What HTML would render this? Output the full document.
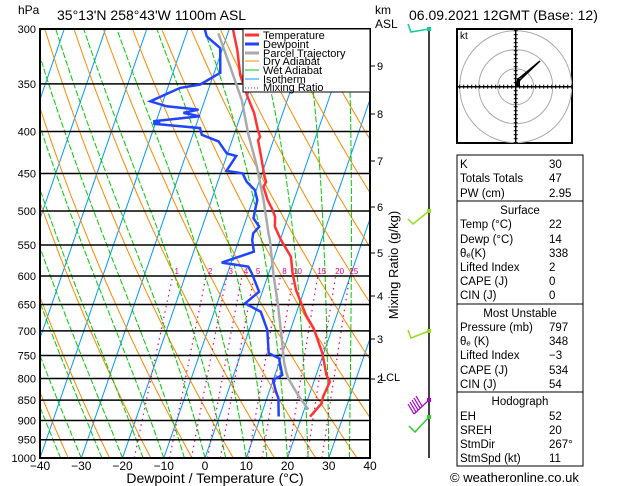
<!DOCTYPE html>
<html><head><meta charset="utf-8"><style>
body{margin:0;background:#fff;}
svg{display:block;font-family:"Liberation Sans",sans-serif;}
</style></head><body>
<svg id="c" width="629" height="486" viewBox="0 0 629 486">
<defs><clipPath id="pc"><rect x="40" y="29" width="330" height="429"/></clipPath></defs>
<g id="bg" clip-path="url(#pc)"></g>
<g id="iso"></g>
<g id="ser" clip-path="url(#pc)"></g>
<rect x="40" y="29" width="330" height="429" fill="none" stroke="#000" stroke-width="2"/>
<g id="ax"></g>
<text x="18" y="14" font-size="12">hPa</text>
<text x="57" y="20" font-size="14">35°13'N  258°43'W  1100m  ASL</text>
<text x="375" y="14" font-size="12">km</text>
<text x="375" y="28" font-size="12">ASL</text>
<text x="409" y="20" font-size="14">06.09.2021  12GMT  (Base: 12)</text>
<text x="215" y="483" font-size="14" text-anchor="middle">Dewpoint / Temperature (°C)</text>
<text x="398" y="265" font-size="13" text-anchor="middle" transform="rotate(-90 398 265)">Mixing Ratio (g/kg)</text>
<g>
<rect x="243" y="29" width="127" height="63" fill="#fff" stroke="#000" stroke-width="1"/>
<line x1="245" y1="35" x2="259" y2="35" stroke="#f33" stroke-width="3"/><text x="263" y="39" font-size="11">Temperature</text>
<line x1="245" y1="44" x2="259" y2="44" stroke="#24f" stroke-width="3"/><text x="263" y="48" font-size="11">Dewpoint</text>
<line x1="245" y1="53" x2="259" y2="53" stroke="#aaa" stroke-width="3"/><text x="263" y="57" font-size="11">Parcel Trajectory</text>
<line x1="245" y1="61" x2="259" y2="61" stroke="#f80" stroke-width="1"/><text x="263" y="65" font-size="11">Dry Adiabat</text>
<line x1="245" y1="70" x2="259" y2="70" stroke="#0c0" stroke-width="1"/><text x="263" y="74" font-size="11">Wet Adiabat</text>
<line x1="245" y1="79" x2="259" y2="79" stroke="#09f" stroke-width="1"/><text x="263" y="83" font-size="11">Isotherm</text>
<line x1="245" y1="88" x2="259" y2="88" stroke="#e08" stroke-width="1" stroke-dasharray="1,2"/><text x="263" y="91" font-size="11">Mixing Ratio</text>
</g>
<g id="wind"></g>
<g id="hodo"></g>
<g id="tbl"></g>
<text x="450" y="482" font-size="13">© weatheronline.co.uk</text>
</svg>
<script>
const tempP=[300.8,318.2,341.3,362.8,380.1,398.3,406,409.9,429.3,454.1,460.6,467.1,484.8,496.2,508,522.5,542.4,568.4,595.5,624.1,654,669.5,695,745.5,792.3,807.2,842,857.9,890.6];
const tempT=[-29.0,-26.3,-23.5,-19.9,-16.9,-14.6,-13.5,-13.7,-11.6,-9.1,-8.3,-8.5,-6.4,-4.7,-3.2,-2.4,0.2,4.0,5.8,8.0,11.0,12.5,15.5,19.7,22.5,23.9,23.5,23.7,22.0];
const dewP=[300.8,306.5,316.5,339.2,350.6,353.9,367.5,372.7,376.2,379.7,383.3,388.7,390.5,391.3,396.2,403.7,411.3,425.3,428.5,446.6,449.9,460.6,471.5,484.8,498.6,510.3,522.5,532.3,542.4,560.4,577.9,584.4,595.5,627,648,663.5,698.3,745.5,756,792.3,803.5,826.3,845.8,890];
const dewT=[-35.8,-34.8,-30.6,-28.5,-32.4,-37.0,-43.1,-38.7,-30.7,-34.1,-29.8,-40.7,-38.9,-40.5,-28.8,-27.8,-23.2,-20.2,-17.7,-18.8,-14.7,-13.0,-10.3,-8.9,-8.6,-8.3,-6.2,-7.1,-6.8,-5.4,-12.3,-5.5,-4.1,-0.8,-3.2,1.3,4.4,6.7,9.6,11.8,10.0,11.4,12.8,14.4];
const parcelP=[303.6,333,366.3,402,441.3,484.8,532.3,542.4,595.5,654,717.1,765,786.9,801.8,840,872.7];
const parcelT=[-32.3,-26.7,-21.0,-16.7,-11.8,-7.4,-3.4,-2.5,1.1,5.1,8.7,11.2,12.6,13.7,17.5,21.0];
const pressureTicks=[300,350,400,450,500,550,600,650,700,750,800,850,900,950,1000];
const tempTicks=[-40,-30,-20,-10,0,10,20,30,40];
const kmTicks=[9,8,7,6,5,4,3,2];
const kmY=[66,114,161,207,253,296,339,379];
const mixRatios=[1,2,3,4,5,8,10,15,20,25];
const NS="http://www.w3.org/2000/svg";
const X0=40,Y0=29,Y1=458,PX=4.125,SK=0.345;
function yP(p){return Y0+Math.log(p/300)/Math.log(1000/300)*(Y1-Y0);}
function xT(t,p){const y=yP(p);return X0+(t+40)*PX+SK*(Y1-y);}
function mk(tag,parent,attrs){const e=document.createElementNS(NS,tag);for(const k in attrs)e.setAttribute(k,attrs[k]);parent.appendChild(e);return e;}
function poly(parent,ps,ts,attrs){let d=ps.map((p,i)=>(i?"L":"M")+xT(ts[i],p).toFixed(1)+","+yP(p).toFixed(1)).join("");return mk("path",parent,Object.assign({d:d,fill:"none"},attrs));}
const bg=document.getElementById("bg");
// isotherms
for(let t=-120;t<=40;t+=10){const e=poly(bg,[1000,300],[t,t],{stroke:"#09f","stroke-width":1});

}
// dry adiabats
const plev=[];for(let p=1000;p>=290;p-=10)plev.push(p);
for(let th=230;th<=500;th+=10){const ts=plev.map(p=>th*Math.pow(p/1000,0.286)-273.15);const e=poly(bg,plev,ts,{stroke:"#f80","stroke-width":1});

}
// wet adiabats
function es(t){return 6.112*Math.exp(17.67*t/(t+243.5));}
for(let t0=-40;t0<=45;t0+=5){let T=t0+273.15;const ps=[],ts=[];
for(let p=1000;p>=290;p-=5){ps.push(p);ts.push(T-273.15);const rs=0.622*es(T-273.15)/(p-es(T-273.15));
const g=(287*T+2.5e6*rs)/(1004+2.5e6*2.5e6*rs*0.622/(287*T*T))/p;T-=g*5;}
const e=poly(bg,ps,ts,{stroke:"#0c0","stroke-width":1,"stroke-dasharray":"6,2"});

}
// mixing ratio
const mlev=[1000,950,900,850,800,750,700,650,600];
mixRatios.forEach(w=>{const ts=mlev.map(p=>{const e=w*p/(622+w);const l=Math.log(e/6.112);return 243.5*l/(17.67-l);});
const e=poly(bg,mlev,ts,{stroke:"#e08","stroke-width":1.2,"stroke-dasharray":"1.5,4"});


const tx=mk("text",document.getElementById("ser"),{x:xT(ts[8],600)+4,y:yP(600)-2,"font-size":8,fill:"#e08","text-anchor":"middle"});tx.textContent=w;

});
// isobars
const iso=document.getElementById("iso"),ax=document.getElementById("ax");
pressureTicks.forEach(p=>{const y=yP(p);const l=mk("line",iso,{x1:X0,x2:370,y1:y,y2:y,stroke:"#000","stroke-width":1.5});


const t=mk("text",ax,{x:36,y:y+4,"font-size":11,"text-anchor":"end"});t.textContent=p;

});
tempTicks.forEach(v=>{const x=X0+(v+40)*PX;const t=mk("text",ax,{x:x,y:470,"font-size":12,"text-anchor":"middle"});t.textContent=v<0?"\u2212"+(-v):v;

});
kmTicks.forEach((k,i)=>{const y=kmY[i];mk("line",ax,{x1:370,x2:375,y1:y,y2:y,stroke:"#000"});const t=mk("text",ax,{x:377,y:y+4,"font-size":11});t.textContent=k;

});
const lcl=mk("text",ax,{x:380,y:381,"font-size":11});lcl.textContent="LCL";


// series
const ser=document.getElementById("ser");
const s1=poly(ser,parcelP,parcelT,{stroke:"#aaa","stroke-width":2.5});


const s2=poly(ser,tempP,tempT,{stroke:"#f33","stroke-width":2.5});


const s3=poly(ser,dewP,dewT,{stroke:"#24f","stroke-width":2.5});


// wind column
const w=document.getElementById("wind");
mk("line",w,{x1:429,x2:429,y1:29,y2:458,stroke:"#000","stroke-width":1.5});
mk("path",w,{d:"M429,29 L411,32 L408,24",stroke:"#1c9","fill":"none","stroke-width":1.5});
mk("path",w,{d:"M429,211 L413,224 L408,219",stroke:"#9d2","fill":"none","stroke-width":1.5});
mk("path",w,{d:"M429,331 L411,338 L408,330",stroke:"#9d2","fill":"none","stroke-width":1.5});
mk("path",w,{d:"M429,400 L414,414 M414,414 L408,404 M416,412 L410,402 M418,410 L412,400 M420,408 L414,398 M422,406 L416,396",stroke:"#a0c","fill":"none","stroke-width":1.2});
mk("path",w,{d:"M429,417 L415,432 L409,426",stroke:"#3c3","fill":"none","stroke-width":1.5});
[[29,"#1c9"],[211,"#9d2"],[331,"#9d2"],[400,"#a0c"],[417,"#3c3"]].forEach(a=>mk("rect",w,{x:427,y:a[0]-2,width:4,height:4,fill:a[1]}));
// hodograph
const h=document.getElementById("hodo");const cx=515.7,cy=86.7;
mk("rect",h,{x:457,y:29,width:115,height:114,fill:"#fff",stroke:"#000","stroke-width":2});
const hg=mk("g",h,{});
[18,37,56].forEach(r=>mk("circle",hg,{cx:cx,cy:cy,r:r,fill:"none",stroke:"#aaa"}));
mk("line",h,{x1:458,x2:571,y1:cy,y2:cy,stroke:"#000","stroke-width":1.5});
mk("line",h,{x1:cx,x2:cx,y1:30,y2:142,stroke:"#000","stroke-width":1.5});
for(let d=-56;d<=56;d+=4){mk("line",h,{x1:cx+d,x2:cx+d,y1:cy-2,y2:cy+2,stroke:"#000"});mk("line",h,{x1:cx-2,x2:cx+2,y1:cy+d,y2:cy+d,stroke:"#000"});}
mk("path",h,{d:"M516,87 L518,79 L522,76 L540,61 L520,80 L516,87",fill:"none",stroke:"#000","stroke-width":1.5});
mk("rect",h,{x:517,y:79,width:3,height:7,fill:"#000"});
const kt=mk("text",h,{x:460,y:39,"font-size":10});kt.textContent="kt";
// table
const tb=document.getElementById("tbl");
mk("rect",tb,{x:457,y:155,width:126,height:46,fill:"none",stroke:"#000"});
mk("rect",tb,{x:457,y:201,width:126,height:103,fill:"none",stroke:"#000"});
mk("rect",tb,{x:457,y:304,width:126,height:88,fill:"none",stroke:"#000"});
mk("rect",tb,{x:457,y:392,width:126,height:74,fill:"none",stroke:"#000"});
const rows=[["K","30",168],["Totals Totals","47",182],["PW (cm)","2.95",197],["Surface","",214,1],["Temp (°C)","22",228],["Dewp (°C)","14",243],["θ\u2091(K)","338",257],["Lifted Index","2",271],["CAPE (J)","0",285],["CIN (J)","0",299],["Most Unstable","",317,1],["Pressure (mb)","797",331],["θ\u2091 (K)","348",345],["Lifted Index","\u22123",359],["CAPE (J)","534",374],["CIN (J)","54",388],["Hodograph","",405,1],["EH","52",420],["SREH","20",434],["StmDir","267°",448],["StmSpd (kt)","11",462]];
rows.forEach(r=>{const t=mk("text",tb,{x:r[3]?520:460,y:r[2],"font-size":11.5,"text-anchor":r[3]?"middle":"start"});t.textContent=r[0];


if(r[1]){const v=mk("text",tb,{x:549,y:r[2],"font-size":11.5});v.textContent=r[1];

}});
</script>
</body></html>
